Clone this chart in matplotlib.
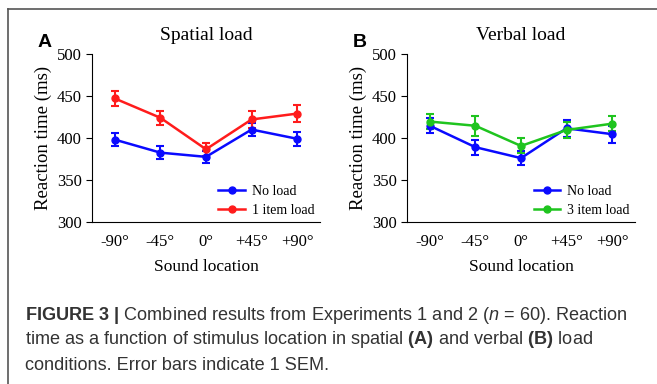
import matplotlib.pyplot as plt
from matplotlib.lines import Line2D

plt.rcParams['font.family'] = ['Liberation Serif', 'DejaVu Serif']
plt.rcParams['mathtext.fontset'] = 'custom'
plt.rcParams['mathtext.rm'] = 'Liberation Sans'
plt.rcParams['mathtext.it'] = 'Liberation Sans:italic'
plt.rcParams['mathtext.bf'] = 'Liberation Sans:bold'

locations = ['-90°', '-45°', '0°', '+45°', '+90°']

# panel A (spatial load)
a_noload = [398, 382.5, 377.5, 410, 399]
a_noload_err = [7.5, 7.5, 7, 7.5, 8.5]
a_load = [447, 424, 386.5, 422, 429]
a_load_err = [9, 8.5, 7.5, 10, 10]

# panel B (verbal load)
b_noload = [414.5, 389, 376, 411.5, 404.5]
b_noload_err = [9, 9, 8, 10, 10]
b_load = [419.5, 414.5, 390.5, 409.5, 417]
b_load_err = [9, 12, 9, 10, 9]

BLUE = '#0a0aff'
RED = '#ff1c1c'
GREEN = '#1fc41f'

fig = plt.figure(figsize=(6.57, 3.84), dpi=100)

# frame of the figure box (only top and left edge visible)
fig.add_artist(Line2D([8/657, 1], [1 - 9/384, 1 - 9/384], color='#555555', lw=1.2, transform=fig.transFigure))
fig.add_artist(Line2D([8/657, 8/657], [0, 1 - 9/384], color='#555555', lw=1.2, transform=fig.transFigure))


def panel(left, title, letter, s1, e1, s2, e2, c2, lab2):
    ax = fig.add_axes([left, 0.422, 0.347, 0.4375])
    x = list(range(len(locations)))
    ax.errorbar(x, s1, yerr=e1, color=BLUE, marker='o', ms=5, lw=1.8,
                capsize=3, elinewidth=1.5, capthick=1.5)
    ax.errorbar(x, s2, yerr=e2, color=c2, marker='o', ms=5, lw=1.8,
                capsize=3, elinewidth=1.5, capthick=1.5)
    ax.set_xlim(-0.5, 4.5)
    ax.set_ylim(300, 500)
    ax.set_yticks([300, 350, 400, 450, 500])
    ax.set_xticks(x)
    ax.set_xticklabels(locations)
    ax.tick_params(axis='x', length=0, pad=9, labelsize=12)
    ax.tick_params(axis='y', length=4, labelsize=12)
    for s in ['top', 'right']:
        ax.spines[s].set_visible(False)
    ax.set_title(title, fontsize=14, pad=10)
    ax.set_ylabel('Reaction time (ms)', fontsize=13.5, labelpad=3)
    ax.set_xlabel('Sound location', fontsize=12.5, labelpad=6)
    handles = [Line2D([], [], color=BLUE, marker='o', ms=5, lw=1.8),
               Line2D([], [], color=c2, marker='o', ms=5, lw=1.8)]
    ax.legend(handles, ['No load', lab2], loc='lower right', frameon=False,
              fontsize=10, handlelength=1.9, borderaxespad=0, labelspacing=0.45,
              handletextpad=0.5, bbox_to_anchor=(1.0, -0.005))
    ax.text(-0.24, 1.04, letter, transform=ax.transAxes, fontsize=14,
            fontweight='bold', family='Liberation Sans')
    return ax


panel(92/657, 'Spatial load', 'A', a_noload, a_noload_err, a_load, a_load_err, RED, '1 item load')
panel(407/657, 'Verbal load', 'B', b_noload, b_noload_err, b_load, b_load_err, GREEN, '3 item load')

cap = dict(family='Liberation Sans', fontsize=13.1, color='#333333', transform=fig.transFigure)
fig.text(25/657, 1 - 315/384, r'$\bf{FIGURE\ 3\ |}$ Combined results from Experiments 1 and 2 ($\it{n}$ = 60). Reaction',
         va='center', **cap)
fig.text(25/657, 1 - 340/384, r'time as a function of stimulus location in spatial $\bf{(A)}$ and verbal $\bf{(B)}$ load',
         va='center', **cap)
fig.text(25/657, 1 - 365/384, 'conditions. Error bars indicate 1 SEM.', va='center', **cap)

fig.savefig('out.png', dpi=100)
